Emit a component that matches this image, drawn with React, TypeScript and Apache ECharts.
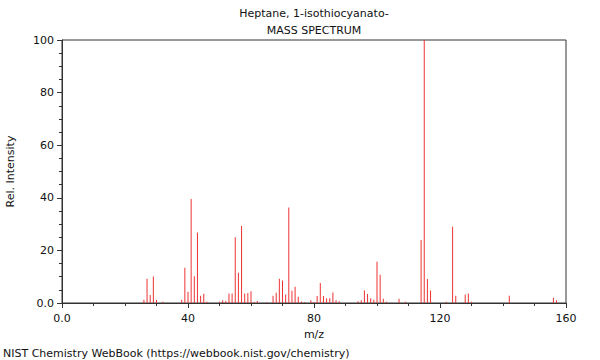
import React, { useEffect, useRef } from "react";
import * as echarts from "echarts";

const titleLines = ["Heptane, 1-isothiocyanato-", "MASS SPECTRUM"];
const footer = "NIST Chemistry WebBook (https://webbook.nist.gov/chemistry)";

const mz = [
  26, 27, 28, 29, 30, 32, 38, 39, 40, 41, 42, 43, 44, 45, 46, 50, 51, 52, 53, 54,
  55, 56, 57, 58, 59, 60, 61, 62, 65, 67, 68, 69, 70, 71, 72, 73, 74, 75, 76, 77,
  79, 80, 81, 82, 83, 84, 85, 86, 87, 88, 94, 95, 96, 97, 98, 99, 100, 101, 102,
  103, 107, 109, 114, 115, 116, 117, 122, 124, 125, 128, 129, 130, 142, 156, 157,
];
const intensity = [
  1.2, 9.2, 3.0, 10.1, 1.1, 0.5, 1.2, 13.4, 4.3, 39.5, 10.2, 26.8, 2.8, 3.5, 0.5,
  0.5, 1.0, 0.8, 3.6, 3.6, 25.0, 11.5, 29.3, 3.6, 3.8, 4.5, 0.3, 0.8, 0.3, 2.8,
  3.9, 9.2, 8.6, 3.2, 36.3, 4.7, 6.2, 2.4, 0.6, 0.3, 1.0, 0.4, 2.7, 7.6, 2.7, 1.8,
  1.8, 4.0, 1.0, 0.7, 0.7, 1.0, 4.8, 3.4, 1.8, 1.2, 15.7, 10.7, 1.6, 0.5, 1.6, 0.5,
  24.0, 100, 9.1, 4.8, 0.5, 29.0, 2.8, 3.2, 3.6, 0.5, 2.8, 2.0, 1.0,
];

const FONT = "DejaVu Sans";

export default function App() {
  const ref = useRef<HTMLDivElement>(null);
  useEffect(() => {
    if (!ref.current) return;
    const chart = echarts.init(ref.current, undefined, { renderer: "svg" });
    const data = mz.map((m, i) => [m, intensity[i]]);
    const fmt = (v: number) => (v === 0 ? "0.0" : String(v));
    chart.setOption({
      animation: false,
      backgroundColor: "#ffffff",
      textStyle: { fontFamily: FONT },
      grid: {
        left: 62,
        right: 34,
        top: 40,
        bottom: 57,
        containLabel: false,
        outerBoundsMode: "none",
        show: true,
        borderColor: "#333",
        borderWidth: 1,
        backgroundColor: "transparent",
      },
      graphic: [
        {
          type: "text",
          x: 314,
          y: 13,
          style: {
            text: titleLines[0],
            fontFamily: FONT,
            fontSize: 11,
            fill: "#111",
            textAlign: "center",
            textVerticalAlign: "middle",
          },
        },
        {
          type: "text",
          x: 314,
          y: 30,
          style: {
            text: titleLines[1],
            fontFamily: FONT,
            fontSize: 11,
            fill: "#111",
            textAlign: "center",
            textVerticalAlign: "middle",
          },
        },
        {
          type: "text",
          x: 3,
          y: 353,
          style: {
            text: footer,
            fontFamily: FONT,
            fontSize: 11,
            fill: "#111",
            textAlign: "left",
            textVerticalAlign: "middle",
          },
        },
      ],
      xAxis: {
        type: "value",
        min: 0,
        max: 160,
        interval: 40,
        name: "m/z",
        nameLocation: "middle",
        nameGap: 26,
        nameTextStyle: { fontFamily: FONT, fontSize: 11, color: "#111" },
        axisLine: { show: true, onZero: false, lineStyle: { color: "#333", width: 1 } },
        axisTick: { show: true, inside: false, length: 5, lineStyle: { color: "#333" } },
        minorTick: { show: true, splitNumber: 4, length: 3, lineStyle: { color: "#333" } },
        splitLine: { show: false },
        axisLabel: {
          margin: 10,
          fontFamily: FONT,
          fontSize: 11,
          color: "#111",
          formatter: fmt,
        },
      },
      yAxis: {
        type: "value",
        min: 0,
        max: 100,
        interval: 20,
        name: "Rel. Intensity",
        nameLocation: "middle",
        nameGap: 46,
        nameTextStyle: { fontFamily: FONT, fontSize: 11, color: "#111" },
        axisLine: { show: true, onZero: false, lineStyle: { color: "#333", width: 1 } },
        axisTick: { show: true, inside: false, length: 5, lineStyle: { color: "#333" } },
        minorTick: { show: true, splitNumber: 4, length: 3, lineStyle: { color: "#333" } },
        splitLine: { show: false },
        axisLabel: {
          margin: 8,
          fontFamily: FONT,
          fontSize: 11,
          color: "#111",
          formatter: fmt,
        },
      },
      series: [
        {
          type: "bar",
          data,
          barWidth: 1,
          silent: true,
          itemStyle: { color: "#ee3333" },
        },
      ],
    });
    return () => chart.dispose();
  }, []);
  return (
    <div
      ref={ref}
      style={{ position: "fixed", left: 0, top: 0, width: 600, height: 360 }}
    />
  );
}
